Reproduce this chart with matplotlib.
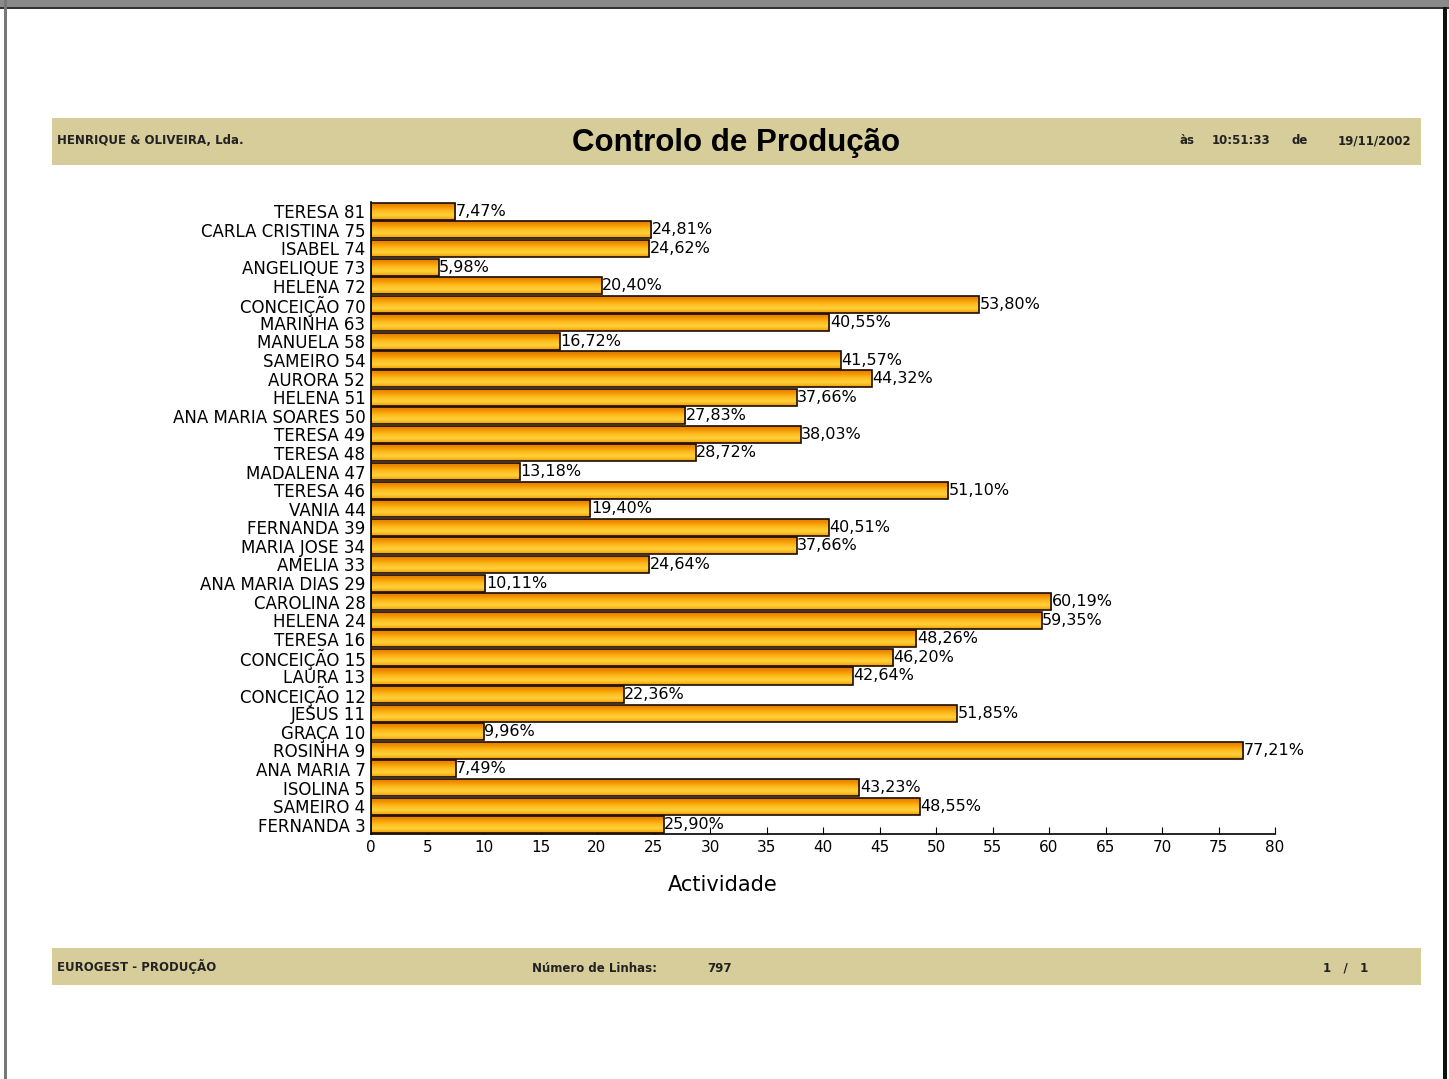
import numpy as np
import matplotlib.pyplot as plt
from matplotlib.patches import Rectangle
from matplotlib.colors import LinearSegmentedColormap

names = ['TERESA 81', 'CARLA CRISTINA 75', 'ISABEL 74', 'ANGELIQUE 73', 'HELENA 72',
         'CONCEIÇÃO 70', 'MARINHA 63', 'MANUELA 58', 'SAMEIRO 54', 'AURORA 52',
         'HELENA 51', 'ANA MARIA SOARES 50', 'TERESA 49', 'TERESA 48', 'MADALENA 47',
         'TERESA 46', 'VANIA 44', 'FERNANDA 39', 'MARIA JOSE 34', 'AMELIA 33',
         'ANA MARIA DIAS 29', 'CAROLINA 28', 'HELENA 24', 'TERESA 16', 'CONCEIÇÃO 15',
         'LAURA 13', 'CONCEIÇÃO 12', 'JESUS 11', 'GRAÇA 10', 'ROSINHA 9',
         'ANA MARIA 7', 'ISOLINA 5', 'SAMEIRO 4', 'FERNANDA 3']
values = [7.47, 24.81, 24.62, 5.98, 20.40, 53.80, 40.55, 16.72, 41.57, 44.32,
          37.66, 27.83, 38.03, 28.72, 13.18, 51.10, 19.40, 40.51, 37.66, 24.64,
          10.11, 60.19, 59.35, 48.26, 46.20, 42.64, 22.36, 51.85, 9.96, 77.21,
          7.49, 43.23, 48.55, 25.90]
xticks = list(range(0, 85, 5))

band = '#d6cd9b'
fig = plt.figure(figsize=(14.49, 10.79), dpi=100)

# page frame and header / footer bands
fig.patches.append(Rectangle((0, 1 - 7/1079), 1, 7/1079, transform=fig.transFigure,
                             facecolor='#8a8a8a', edgecolor='none'))
fig.patches.append(Rectangle((0, 1 - 9/1079), 1, 2/1079, transform=fig.transFigure,
                             facecolor='#333333', edgecolor='none'))
fig.patches.append(Rectangle((4/1449, 0), 3/1449, 1, transform=fig.transFigure,
                             facecolor='#777777', edgecolor='none'))
fig.patches.append(Rectangle((1443/1449, 0), 4/1449, 1 - 7/1079, transform=fig.transFigure,
                             facecolor='#111111', edgecolor='none'))
fig.patches.append(Rectangle((52/1449, 1 - 165/1079), 1369/1449, 47/1079,
                             transform=fig.transFigure, facecolor=band, edgecolor='none'))
fig.patches.append(Rectangle((52/1449, 1 - 985/1079), 1369/1449, 37/1079,
                             transform=fig.transFigure, facecolor=band, edgecolor='none'))

small = dict(fontsize=8.5, fontweight='bold', va='center', family='Liberation Sans Narrow',
             color='#222222')
fig.text(57/1449, 1 - 141/1079, 'HENRIQUE & OLIVEIRA, Lda.', ha='left', **small)
fig.text(736/1449, 1 - 143/1079, 'Controlo de Produção', ha='center', va='center',
         fontsize=22.5, fontweight='bold', family='Liberation Sans')
fig.text(1180/1449, 1 - 141/1079, 'às', ha='left', **small)
fig.text(1212/1449, 1 - 141/1079, '10:51:33', ha='left', **small)
fig.text(1291/1449, 1 - 141/1079, 'de', ha='left', **small)
fig.text(1338/1449, 1 - 141/1079, '19/11/2002', ha='left', **small)
fig.text(57/1449, 1 - 966/1079, 'EUROGEST - PRODUÇÃO', ha='left', **small)
fig.text(532/1449, 1 - 968/1079, 'Número de Linhas:', ha='left', **small)
fig.text(707/1449, 1 - 968/1079, '797', ha='left', **small)
fig.text(1323/1449, 1 - 968/1079, '1   /   1', ha='left', **small)

ax = fig.add_axes([371/1449, 1 - 834/1079, 904/1449, 632/1079])
n = len(values)
y = np.arange(n)[::-1]
cmap = LinearSegmentedColormap.from_list('bar', ['#f29a00', '#ffd23c', '#ffbc1e', '#f29400', '#dc7200'])
grad = np.linspace(0, 1, 64).reshape(-1, 1)
bars = ax.barh(y, values, height=0.92, facecolor='#f5a000', edgecolor='#1e0c00', linewidth=1.2, zorder=2)
for b in bars:
    x0, y0 = b.get_x(), b.get_y()
    im = ax.imshow(grad, cmap=cmap, aspect='auto', extent=[x0, x0 + b.get_width(), y0 + b.get_height(), y0],
                   zorder=2, interpolation='bicubic')
    im.set_clip_path(b)
    b.set_facecolor('none')
    b.set_zorder(3)
for yi, v in zip(y, values):
    ax.text(v + 0.05, yi, f'{v:.2f}%'.replace('.', ','), va='center', ha='left', fontsize=11.5,
            bbox=dict(facecolor='white', edgecolor='none', pad=0.5), zorder=1)

ax.set_xlim(0, 80)
ax.set_ylim(-0.5, n - 0.5)
ax.set_xticks(xticks)
ax.set_xticklabels([str(t) for t in xticks], fontsize=11)
ax.set_yticks(y)
ax.set_yticklabels(names, fontsize=12)
ax.tick_params(axis='x', direction='in', length=5, pad=4)
ax.tick_params(axis='y', length=0, pad=4)
for s in ['top', 'right']:
    ax.spines[s].set_visible(False)
ax.spines['left'].set_linewidth(1.2)
ax.spines['bottom'].set_linewidth(1.2)
ax.set_xlabel('Actividade', fontsize=15, labelpad=8)
ax.xaxis.set_label_coords((723 - 371) / 904, -0.065)

fig.savefig('out.png', dpi=100)
